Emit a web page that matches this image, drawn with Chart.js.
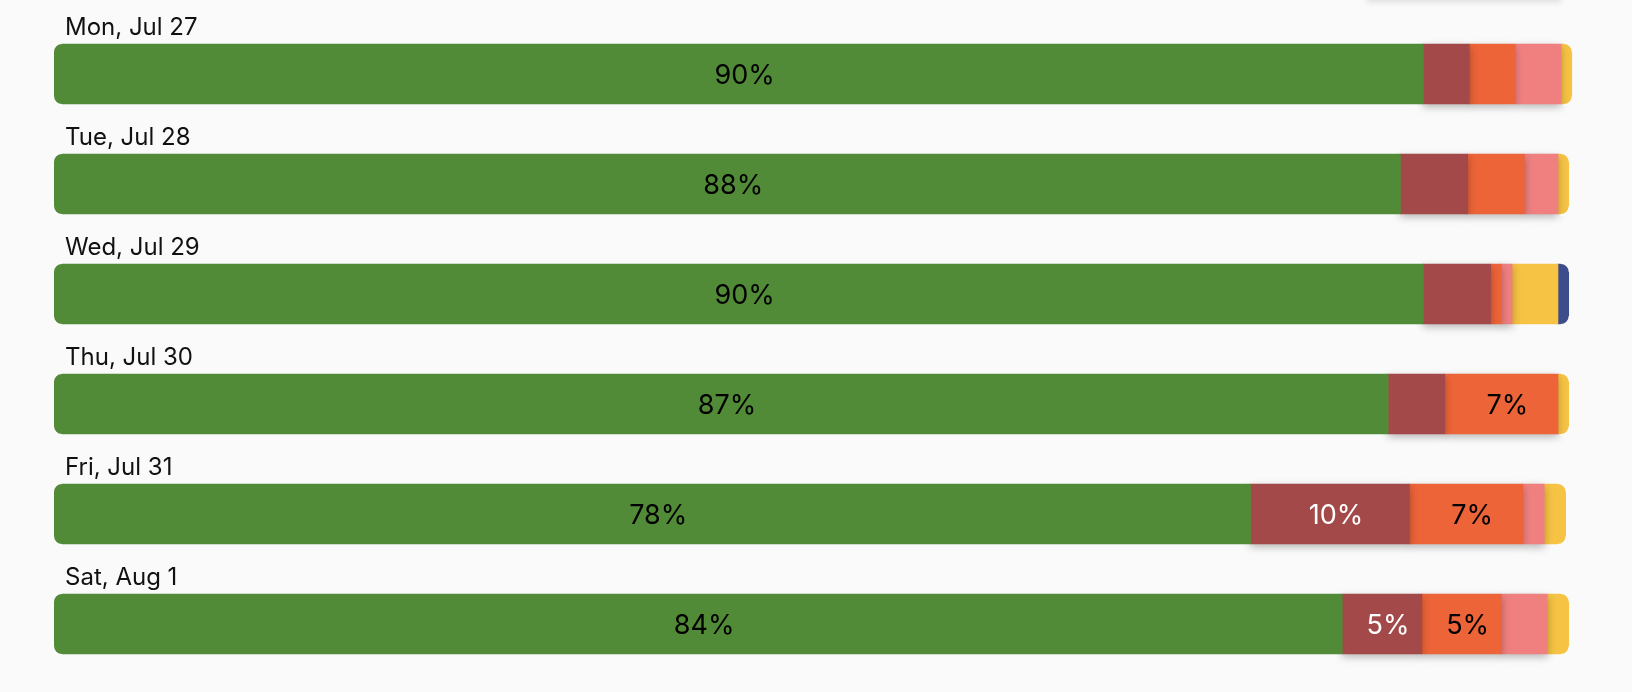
<!DOCTYPE html>
<html lang="en">
<head>
    <meta charset="UTF-8">
    <title>Daily breakdown</title>
    <script src="https://cdn.jsdelivr.net/npm/chart.js"></script>
    <style>
        html, body {
            margin: 0;
            padding: 0;
            background: #fafafa;
            overflow: hidden;
        }
        .wrap {
            position: relative;
            width: 1632px;
            height: 692px;
        }
        /* edge of a card sitting just above the visible area */
        .card-edge {
            position: absolute;
            top: -30px;
            left: 1366px;
            width: 196px;
            height: 30px;
            background: #fafafa;
            box-shadow: 0 2px 6px rgba(0, 0, 0, 0.12);
            border-radius: 4px;
        }
    </style>
</head>
<body>
    <div class="wrap">
        <div class="card-edge"></div>
        <canvas id="dayChart"></canvas>
    </div>

    <script>
        // days shown as rows
        const days = ['Mon, Jul 27', 'Tue, Jul 28', 'Wed, Jul 29', 'Thu, Jul 30', 'Fri, Jul 31', 'Sat, Aug 1'];

        // share of each category per day, in percent
        const greenShare  = [89.5, 88.0, 89.5, 87.2, 78.2, 84.2];
        const maroonShare = [3.0, 4.4, 4.4, 3.7, 10.4, 5.2];
        const orangeShare = [3.0, 3.7, 0.7, 7.4, 7.4, 5.2];
        const pinkShare   = [3.0, 2.2, 0.7, 0, 1.4, 3.0];
        const yellowShare = [0.7, 0.7, 3.0, 0.7, 1.4, 1.4];
        const navyShare   = [0, 0, 0.7, 0, 0, 0];

        const FONT = 'Inter, "Noto Sans", sans-serif';
        const RADIUS = 8;

        const series = [
            { data: greenShare,  color: '#528b37', text: '#000000', shadow: false },
            { data: maroonShare, color: '#a34949', text: '#ffffff', shadow: true },
            { data: orangeShare, color: '#ec6438', text: '#000000', shadow: true },
            { data: pinkShare,   color: '#f08080', text: '#000000', shadow: true },
            { data: yellowShare, color: '#f6c344', text: '#000000', shadow: false },
            { data: navyShare,   color: '#3c4c8c', text: '#ffffff', shadow: false }
        ];

        // round off both ends of every whole row (cut the corners away)
        const roundRows = {
            id: 'roundRows',
            beforeDatasetsDraw(chart) {
                const ctx = chart.ctx;
                const metas = chart.data.datasets.map((d, i) => chart.getDatasetMeta(i));
                ctx.save();
                ctx.beginPath();
                ctx.rect(0, 0, chart.width, chart.height);
                days.forEach((d, i) => {
                    let left = Infinity, right = -Infinity, top = 0, bottom = 0;
                    metas.forEach((m, di) => {
                        const bar = m.data[i];
                        if (!chart.data.datasets[di].data[i]) return;
                        left = Math.min(left, bar.base);
                        right = Math.max(right, bar.x);
                        top = bar.y - bar.height / 2;
                        bottom = bar.y + bar.height / 2;
                    });
                    const r = RADIUS, e = 2;
                    // top right
                    ctx.moveTo(right + e, top - e);
                    ctx.lineTo(right + e, top + r);
                    ctx.lineTo(right, top + r);
                    ctx.arc(right - r, top + r, r, 0, -Math.PI / 2, true);
                    ctx.lineTo(right - r, top - e);
                    ctx.closePath();
                    // bottom right
                    ctx.moveTo(right + e, bottom + e);
                    ctx.lineTo(right + e, bottom - r);
                    ctx.lineTo(right, bottom - r);
                    ctx.arc(right - r, bottom - r, r, 0, Math.PI / 2, false);
                    ctx.lineTo(right - r, bottom + e);
                    ctx.closePath();
                    // top left
                    ctx.moveTo(left - e, top - e);
                    ctx.lineTo(left - e, top + r);
                    ctx.lineTo(left, top + r);
                    ctx.arc(left + r, top + r, r, Math.PI, -Math.PI / 2, false);
                    ctx.lineTo(left + r, top - e);
                    ctx.closePath();
                    // bottom left
                    ctx.moveTo(left - e, bottom + e);
                    ctx.lineTo(left - e, bottom - r);
                    ctx.lineTo(left, bottom - r);
                    ctx.arc(left + r, bottom - r, r, Math.PI, Math.PI / 2, true);
                    ctx.lineTo(left + r, bottom + e);
                    ctx.closePath();
                });
                ctx.clip('evenodd');
            },
            afterDatasetsDraw(chart) {
                chart.ctx.restore();
            }
        };

        // soft drop shadow under the middle segments
        const segmentShadow = {
            id: 'segmentShadow',
            beforeDatasetDraw(chart, args) {
                if (!series[args.index].shadow) return;
                const ctx = chart.ctx;
                ctx.save();
                ctx.shadowColor = 'rgba(0, 0, 0, 0.28)';
                ctx.shadowBlur = 8;
                ctx.shadowOffsetY = 3;
            },
            afterDatasetDraw(chart, args) {
                if (!series[args.index].shadow) return;
                chart.ctx.restore();
            }
        };

        // day names above the bars and percentages inside the wide segments
        const barLabels = {
            id: 'barLabels',
            afterDatasetsDraw(chart) {
                const ctx = chart.ctx;
                const yScale = chart.scales.y;
                ctx.save();

                ctx.font = '24px ' + FONT;
                ctx.fillStyle = '#111111';
                ctx.textAlign = 'left';
                ctx.textBaseline = 'alphabetic';
                days.forEach((d, i) => {
                    ctx.fillText(d, 65, yScale.getPixelForValue(i) - 39);
                });

                ctx.font = '27px ' + FONT;
                ctx.textAlign = 'center';
                chart.data.datasets.forEach((ds, di) => {
                    const meta = chart.getDatasetMeta(di);
                    meta.data.forEach((bar, i) => {
                        const v = ds.data[i];
                        if (!v || Math.round(v) < 5) return;
                        ctx.fillStyle = series[di].text;
                        ctx.fillText(Math.round(v) + '%', (bar.x + bar.base) / 2 + 6, bar.y + 10);
                    });
                });
                ctx.restore();
            }
        };

        new Chart(document.getElementById('dayChart'), {
            type: 'bar',
            data: {
                labels: days,
                datasets: series.map(s => ({
                    // empty categories are left out instead of drawn as hairlines
                    data: s.data.map(v => v || null),
                    backgroundColor: s.color,
                    borderWidth: 0,
                    borderSkipped: false,
                    barThickness: 60
                }))
            },
            options: {
                indexAxis: 'y',
                responsive: true,
                maintainAspectRatio: false,
                animation: false,
                layout: {
                    padding: { left: 54, right: 48, top: 19, bottom: 13 }
                },
                scales: {
                    x: { stacked: true, min: 0, max: 100, display: false },
                    y: { stacked: true, display: false }
                },
                plugins: {
                    legend: { display: false },
                    tooltip: { enabled: false }
                }
            },
            plugins: [roundRows, segmentShadow, barLabels]
        });
    </script>
</body>
</html>
